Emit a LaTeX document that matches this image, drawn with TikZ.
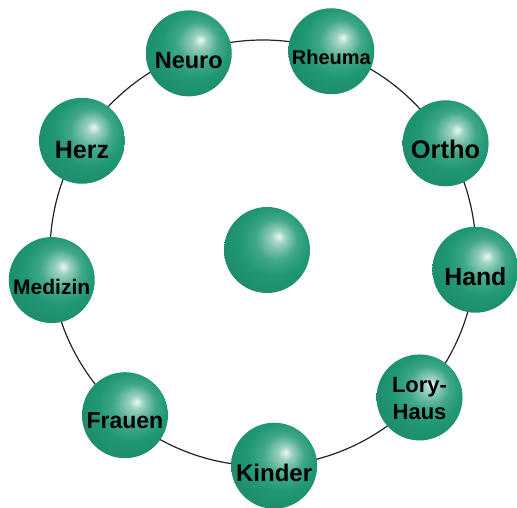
\documentclass[tikz,border=0pt]{standalone}
\usepackage{fontspec}
\setmainfont{Liberation Sans}
\usetikzlibrary{positioning,calc}
\definecolor{ink}{RGB}{35,35,35}
\definecolor{orbgreen}{RGB}{32,152,117}
\pgfdeclareradialshading{orbshade}{\pgfpoint{7bp}{8bp}}{%
  color(0bp)=(white!92!orbgreen); color(4bp)=(orbgreen!45!white);
  color(12bp)=(orbgreen!85!white); color(20bp)=(orbgreen);
  color(32bp)=(orbgreen!90!black); color(50bp)=(orbgreen!85!black)}
\tikzset{
  orb/.style={circle,minimum size=43pt,inner sep=0pt,shading=orbshade},
  tag/.style={font=\bfseries\fontsize{#1}{13.5}\selectfont,align=center,
    inner sep=0pt,text=black},
  tag/.default=12,
  ring/.style={draw=ink,line width=0.6pt},
}
\begin{document}
\begin{tikzpicture}[x=0.5pt,y=0.5pt]
  \useasboundingbox (0,0) rectangle (517,507);
  % ring of clinics
  \coordinate (mid) at (263,254);
  \draw[ring] (mid) circle[radius=213];
  \node[orb] (core) at (267,257) {};
  \node[orb] (neuro) at ($(mid)+(110.4:213)$) {};
  \node[orb] (rheuma) at ($(mid)+(71.3:213)$) {};
  \node[orb] (ortho) at ($(mid)+(31:213)$) {};
  \node[orb] (hand) at ($(mid)+(-4.5:213)$) {};
  \node[orb] (lory) at ($(mid)+(-42.7:213)$) {};
  \node[orb] (kinder) at ($(mid)+(-87:213)$) {};
  \node[orb] (frauen) at ($(mid)+(-130.4:213)$) {};
  \node[orb] (medizin) at ($(mid)+(-172.7:213)$) {};
  \node[orb] (herz) at ($(mid)+(148.2:213)$) {};
  % names
  \node[tag=11.75] (neuro-t) at ($(neuro)+(0,-7)$) {Neuro};
  \node[tag=10] (rheuma-t) at ($(rheuma)+(0,-6)$) {Rheuma};
  \node[tag=12.75] (ortho-t) at ($(ortho)+(0,-6)$) {Ortho};
  \node[tag=12.4] (hand-t) at ($(hand)+(0,-7)$) {Hand};
  \node[tag=11] (lory-t) at ($(lory)+(0,-1)$) {Lory-\\Haus};
  \node[tag=12] (kinder-t) at ($(kinder)+(0,-7)$) {Kinder};
  \node[tag=11.5] (frauen-t) at ($(frauen)+(0,-6)$) {Frauen};
  \node[tag=10.5] (medizin-t) at ($(medizin)+(0,-7)$) {Medizin};
  \node[tag=12.5] (herz-t) at ($(herz)+(0,-9)$) {Herz};
\end{tikzpicture}
\end{document}
